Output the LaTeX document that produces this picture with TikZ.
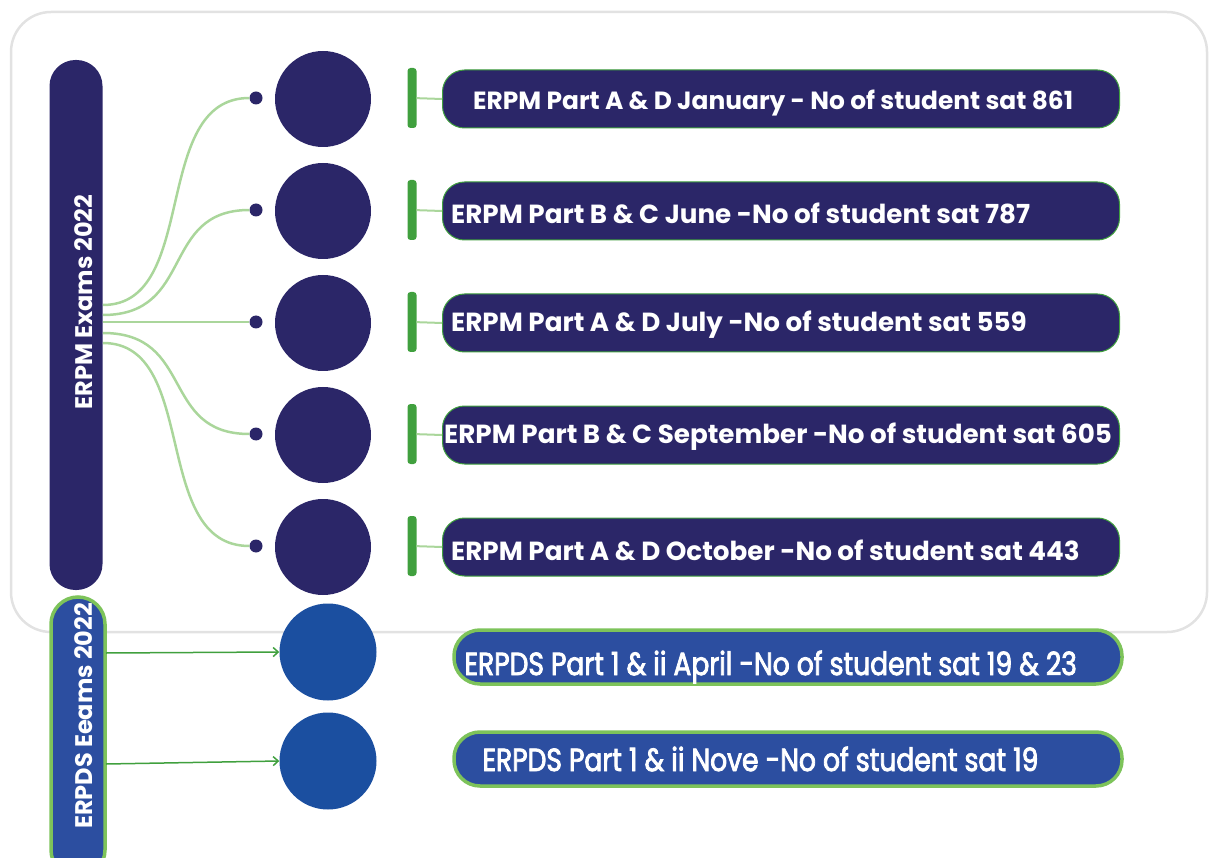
\documentclass[tikz,border=0pt]{standalone}
\usepackage{fontspec}
\setmainfont{Poppins}
\newfontfamily\narrowpop[FakeStretch=0.83, FakeBold=2.5]{Poppins}
\usepackage{tikz}
\usepackage{xcolor}
\usetikzlibrary{positioning,arrows.meta}
\definecolor{erpmnavy}{RGB}{43,38,104}
\definecolor{erpdsblue}{RGB}{44,78,160}
\definecolor{circleblue}{RGB}{27,79,160}
\definecolor{barcolor}{RGB}{64,160,62}
\definecolor{rimgreen}{RGB}{125,195,90}
\definecolor{wiregreen}{RGB}{170,214,155}
\definecolor{framegray}{RGB}{226,226,226}
\tikzset{
    outer-frame/.style = {draw=framegray, line width=2.5pt, rounded corners=40pt},
    erpm-pill/.style = {fill=erpmnavy, rectangle, rounded corners=26pt, minimum width=53pt, minimum height=530pt, inner sep=0pt},
    erpds-pill/.style = {fill=erpdsblue, draw=rimgreen, line width=3.5pt, rectangle, rounded corners=27pt, minimum width=54pt, minimum height=280pt, inner sep=0pt},
    pill-text/.style = {text=white, font=\fontsize{24}{24}\selectfont\bfseries, rotate=90},
    erpm-circle/.style = {circle, fill=erpmnavy, minimum size=96pt, inner sep=0pt},
    erpds-circle/.style = {circle, fill=circleblue, minimum size=97pt, inner sep=0pt},
    erpm-dot/.style = {circle, fill=erpmnavy, minimum size=13pt, inner sep=0pt},
    green-bar/.style = {rectangle, fill=barcolor, rounded corners=3pt, minimum width=9pt, minimum height=60pt, inner sep=0pt},
    erpm-box/.style = {rectangle, fill=erpmnavy, draw=barcolor, line width=1pt, rounded corners=22pt, minimum width=677pt, minimum height=58pt, inner sep=0pt},
    erpds-box/.style = {rectangle, fill=erpdsblue, draw=rimgreen, line width=3.5pt, rounded corners=26pt, minimum width=668pt, minimum height=54pt, inner sep=0pt},
    box-text/.style = {text=white, font=\fontsize{26.2}{26.2}\selectfont\bfseries, inner sep=0pt},
    narrow-text/.style = {text=white, font=\narrowpop\fontsize{32}{32}\selectfont, inner sep=0pt},
    wire/.style = {draw=wiregreen, line width=2.5pt},
    stub/.style = {draw=wiregreen, line width=2pt},
    erpds-arrow/.style = {draw=barcolor, line width=1.5pt, -{Straight Barb[length=5pt,width=9pt]}},
}

\begin{document}
\begin{tikzpicture}[x=1pt,y=-1pt]
\useasboundingbox (0,0) rectangle (1210,858);
\draw[outer-frame] (11,12) rectangle (1207,632);

% left pills
\node[erpm-pill] (erpm) at (76,325) {};
\node[pill-text] at (84,302) {ERPM Exams 2022};
\node[erpds-pill] (erpds) at (78,737) {};
\node[pill-text] at (84,716) {ERPDS Eeams 2022};

% ERPM rows
\node[erpm-dot] (d1) at (256,98) {};
\node[erpm-dot] (d2) at (256,210) {};
\node[erpm-dot] (d3) at (256,322) {};
\node[erpm-dot] (d4) at (256,434) {};
\node[erpm-dot] (d5) at (256,546) {};
\node[erpm-circle] (c1) at (323,99) {};
\node[erpm-circle] (c2) at (323,211) {};
\node[erpm-circle] (c3) at (323,323) {};
\node[erpm-circle] (c4) at (323,435) {};
\node[erpm-circle] (c5) at (323,547) {};
\node[green-bar] (b1) at (412,98) {};
\node[green-bar] (b2) at (412,210) {};
\node[green-bar] (b3) at (412,322) {};
\node[green-bar] (b4) at (412,434) {};
\node[green-bar] (b5) at (412,546) {};
\node[erpm-box] (t1) at (781,99) {};
\node[erpm-box] (t2) at (781,211) {};
\node[erpm-box] (t3) at (781,323) {};
\node[erpm-box] (t4) at (781,435) {};
\node[erpm-box] (t5) at (781,547) {};
\node[box-text, font=\fontsize{24.9}{24.9}\selectfont\bfseries, right=31pt] at ([yshift=-4pt]t1.west) {ERPM Part A \& D January - No of student sat 861};
\node[box-text, right=9pt] at ([yshift=-2pt]t2.west) {ERPM Part B \& C June -No of student sat 787};
\node[box-text, right=9pt] at ([yshift=-2pt]t3.west) {ERPM Part A \& D July -No of student sat 559};
\node[box-text, right=2pt] at ([yshift=-2pt]t4.west) {ERPM Part B \& C September -No of student sat 605};
\node[box-text, right=9pt] at ([yshift=-3pt]t5.west) {ERPM Part A \& D October -No of student sat 443};

% wires from the pill
\coordinate (o1) at (103,305);
\coordinate (o2) at (103,315);
\coordinate (o3) at (103,322);
\coordinate (o4) at (103,333);
\coordinate (o5) at (103,343);
\draw[wire] (o1) .. controls (200,305) and (150,98) .. (d1);
\draw[wire] (o2) .. controls (195,315) and (160,210) .. (d2);
\draw[wire] (o3) -- (d3);
\draw[wire] (o4) .. controls (195,333) and (160,434) .. (d4);
\draw[wire] (o5) .. controls (200,343) and (150,546) .. (d5);
\draw[stub] (b1) -- (t1.west);
\draw[stub] (b2) -- (t2.west);
\draw[stub] (b3) -- (t3.west);
\draw[stub] (b4) -- (t4.west);
\draw[stub] (b5) -- (t5.west);

% ERPDS rows
\node[erpds-circle] (e1) at (328,652) {};
\node[erpds-circle] (e2) at (328,761) {};
\coordinate (p1) at (106,653);
\coordinate (p2) at (106,764);
\draw[erpds-arrow] (p1) -- (e1.west);
\draw[erpds-arrow] (p2) -- (e2.west);
\node[erpds-box] (s1) at (788,657) {};
\node[erpds-box] (s2) at (788,759) {};
\node[narrow-text, right=12pt] at ([yshift=-10pt]s1.west) {ERPDS Part 1 \& ii April -No of student sat 19 \& 23};
\node[narrow-text, right=30pt] at (s2.west) {ERPDS Part 1 \& ii Nove -No of student sat 19};
\end{tikzpicture}
\end{document}
